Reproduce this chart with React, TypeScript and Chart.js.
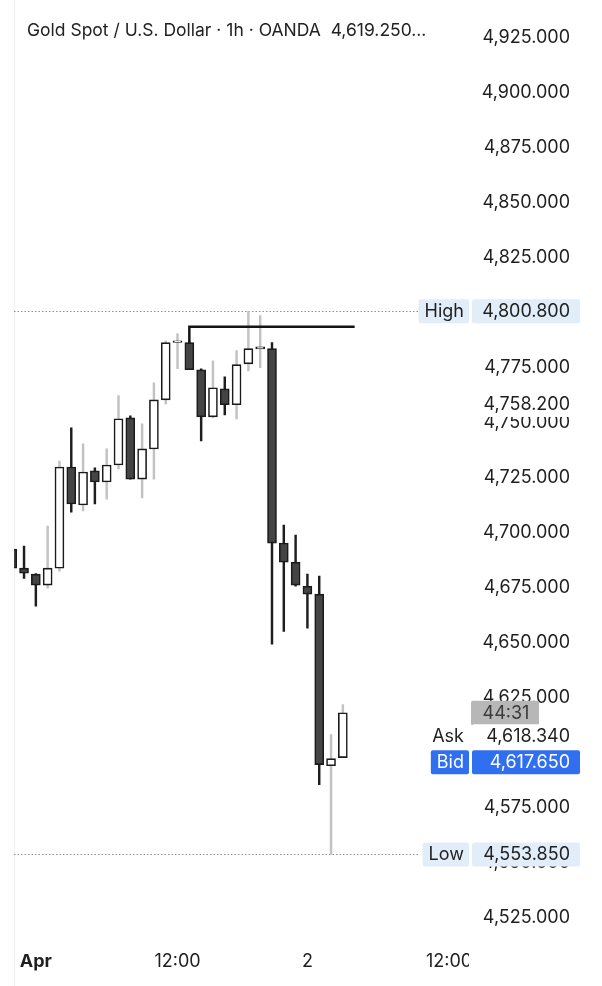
import React, { useEffect, useRef } from 'react';
import { Chart, registerables } from 'chart.js';

Chart.register(...registerables);

// ---- data (hourly candles, XAU/USD, OANDA) ----
const opens = [4692.7, 4684.0, 4681.3, 4676.3, 4684.0, 4730.0, 4712.7, 4728.2, 4723.2, 4730.9, 4752.3, 4724.5, 4738.2, 4760.5, 4786.6, 4786.5, 4774.2, 4752.8, 4765.5, 4758.3, 4776.9, 4783.7, 4783.8, 4695.4, 4686.7, 4675.8, 4672.2, 4594.2, 4597.9];
const highs = [4693.5, 4694.0, 4681.5, 4703.1, 4732.7, 4747.8, 4740.5, 4729.6, 4738.2, 4762.4, 4753.2, 4749.6, 4768.3, 4787.4, 4790.6, 4786.9, 4774.6, 4778.3, 4771.0, 4782.9, 4800.8, 4798.8, 4786.5, 4703.6, 4699.0, 4681.3, 4680.4, 4608.4, 4622.0];
const lows = [4684.0, 4679.4, 4666.7, 4674.9, 4682.6, 4709.5, 4710.0, 4713.2, 4715.4, 4729.1, 4724.5, 4715.9, 4724.5, 4758.7, 4774.7, 4774.2, 4741.9, 4752.3, 4753.7, 4751.9, 4773.7, 4775.1, 4649.4, 4655.3, 4675.8, 4656.7, 4585.6, 4553.85, 4597.9];
const closes = [4684.0, 4681.7, 4676.3, 4684.0, 4730.0, 4713.2, 4727.7, 4723.2, 4730.9, 4751.9, 4724.5, 4738.2, 4760.5, 4786.5, 4787.4, 4774.2, 4752.8, 4766.0, 4758.3, 4776.5, 4783.8, 4784.6, 4695.4, 4686.7, 4676.3, 4672.2, 4594.7, 4597.4, 4618.3];

// x-axis tick positions (candle index) and labels
const xTickPos = [2, 14, 25, 37];
const xTickLabels = ['Apr', '12:00', '2', '12:00'];

// drawn trend line (candle index, price)
const drawnLineX = [15, 15, 29];
const drawnLineY = [4786.5, 4793.8, 4793.8];

// price markers
const HIGH = 4800.8;
const LOW = 4553.85;
const ASK = 4618.34;
const BID = 4617.65;
const LAST_MARK = 4758.2;
const COUNTDOWN = '44:31';
const TITLE = 'Gold Spot / U.S. Dollar · 1h · OANDA  4,619.250...';

const FONT = 'Inter, "Noto Sans", sans-serif';
const TEXT = '#1f1f1f';

const fmt = (v: number) =>
  v.toLocaleString('en-US', { minimumFractionDigits: 3, maximumFractionDigits: 3 });

const isUp = (i: number) => closes[i] >= opens[i];

function roundRect(ctx: CanvasRenderingContext2D, x: number, y: number, w: number, h: number, r: number, fill: string) {
  ctx.beginPath();
  ctx.moveTo(x + r, y);
  ctx.lineTo(x + w - r, y);
  ctx.quadraticCurveTo(x + w, y, x + w, y + r);
  ctx.lineTo(x + w, y + h - r);
  ctx.quadraticCurveTo(x + w, y + h, x + w - r, y + h);
  ctx.lineTo(x + r, y + h);
  ctx.quadraticCurveTo(x, y + h, x, y + h - r);
  ctx.lineTo(x, y + r);
  ctx.quadraticCurveTo(x, y, x + r, y);
  ctx.closePath();
  ctx.fillStyle = fill;
  ctx.fill();
}

const overlayPlugin = {
  id: 'overlay',
  beforeDatasetsDraw(chart: any) {
    const { ctx, chartArea, scales } = chart;
    const y = scales.y;
    ctx.save();
    ctx.strokeStyle = '#f0f0f0';
    ctx.lineWidth = 1;
    ctx.beginPath();
    ctx.moveTo(chartArea.left + 0.5, 0);
    ctx.lineTo(chartArea.left + 0.5, chart.height);
    ctx.stroke();
    ctx.strokeStyle = '#8f8f8f';
    ctx.setLineDash([1.5, 2]);
    [HIGH, LOW].forEach((v) => {
      const py = Math.round(y.getPixelForValue(v)) + 0.5;
      ctx.beginPath();
      ctx.moveTo(chartArea.left, py);
      ctx.lineTo(419, py);
      ctx.stroke();
    });
    ctx.restore();
  },
  afterDraw(chart: any) {
    const { ctx, scales, chartArea } = chart;
    const y = scales.y;
    ctx.save();
    ctx.font = `18px ${FONT}`;
    ctx.textBaseline = 'middle';

    // hide the part of the time axis under the price scale
    ctx.fillStyle = '#fff';
    ctx.fillRect(chartArea.right + 1, chartArea.bottom + 2, chart.width - chartArea.right, chart.height - chartArea.bottom);

    const valRight = 570;
    const tagRight = 464;
    const tag = (label: string | null, value: string, yc: number, bg: string, fg: string) => {
      const h = 24;
      if (label) {
        const w = ctx.measureText(label).width;
        roundRect(ctx, tagRight - w - 6, yc - h / 2, w + 11, h, 2, bg);
      }
      roundRect(ctx, 472, yc - h / 2, 108, h, 2, bg);
      ctx.fillStyle = fg;
      ctx.textAlign = 'right';
      if (label) ctx.fillText(label, tagRight, yc);
      ctx.fillText(value, valRight, yc);
    };

    // last mark label
    const ym = y.getPixelForValue(LAST_MARK);
    ctx.fillStyle = '#fff';
    ctx.fillRect(472, ym - 12, 110, 24);
    ctx.fillStyle = TEXT;
    ctx.textAlign = 'right';
    ctx.fillText(fmt(LAST_MARK), valRight, ym);

    // high / low
    tag('High', fmt(HIGH), y.getPixelForValue(HIGH), '#e2edfa', TEXT);
    tag('Low', fmt(LOW), y.getPixelForValue(LOW), '#e2edfa', TEXT);

    // countdown
    const yb = y.getPixelForValue(BID);
    roundRect(ctx, 471, yb - 13.5, 68, 25, 2, '#b7b7b7');
    ctx.fillStyle = '#3a3a3a';
    ctx.textAlign = 'center';
    ctx.fillText(COUNTDOWN, 506, yb - 1);

    // ask (on a white plate that hides the tick label below it)
    const ya = yb + 22;
    const ybid = yb + 48;
    ctx.fillStyle = '#fff';
    ctx.fillRect(420, ya - 11, 162, ybid - ya);
    tag('Ask', fmt(ASK), ya, '#ffffff', TEXT);

    // bid
    tag('Bid', fmt(BID), ybid, '#2f6ff0', '#ffffff');

    // title
    ctx.font = `17.5px ${FONT}`;
    ctx.textAlign = 'left';
    ctx.fillStyle = '#222';
    ctx.fillText(TITLE, 27, 31);
    ctx.restore();
  },
};

export default function App() {
  const ref = useRef<HTMLCanvasElement>(null);

  useEffect(() => {
    const canvas = ref.current;
    if (!canvas) return;

    const idx = opens.map((_, i) => i);

    const chart = new Chart(canvas, {
      type: 'bar',
      data: {
        datasets: [
          {
            type: 'line',
            data: drawnLineX.map((x, i) => ({ x, y: drawnLineY[i] })),
            borderColor: '#141414',
            borderWidth: 2.5,
            pointRadius: 0,
            fill: false,
            tension: 0,
            order: 0,
          } as any,
          {
            type: 'bar',
            data: idx.map((i) => ({ x: i, y: [opens[i], closes[i]] })),
            backgroundColor: idx.map((i) => (isUp(i) ? '#ffffff' : '#444444')),
            borderColor: '#1a1a1a',
            borderWidth: 1.6,
            borderSkipped: false,
            barThickness: 9,
            grouped: false,
            order: 1,
          } as any,
          {
            type: 'bar',
            data: idx.map((i) => ({ x: i, y: [lows[i], highs[i]] })),
            backgroundColor: idx.map((i) => (isUp(i) ? '#c2c2c2' : '#1e1e1e')),
            borderWidth: 0,
            barThickness: 1.8,
            grouped: false,
            order: 2,
          } as any,
        ],
      },
      options: {
        responsive: false,
        animation: false,
        events: [],
        layout: { padding: { left: 14, right: 32, top: 38, bottom: 4 } },
        plugins: { legend: { display: false }, tooltip: { enabled: false } },
        scales: {
          x: {
            type: 'linear',
            min: 0.15,
            max: 38.6,
            offset: false,
            grid: { display: false, drawTicks: false },
            border: { display: false },
            afterBuildTicks: (scale: any) => {
              scale.ticks = xTickPos.map((v) => ({ value: v }));
            },
            ticks: {
              autoSkip: false,
              maxRotation: 0,
              padding: 10,
              color: TEXT,
              font: (c: any) => ({
                family: FONT,
                size: 18,
                weight: c.index === 0 ? 'bold' : 'normal',
              }),
              callback: (_v: any, i: number) => xTickLabels[i],
            },
          },
          y: {
            type: 'linear',
            position: 'right',
            min: 4514.8,
            max: 4925,
            grid: { display: false, drawTicks: false },
            border: { display: false },
            afterFit: (scale: any) => {
              scale.width = 102;
            },
            ticks: {
              stepSize: 25,
              includeBounds: false,
              crossAlign: 'far',
              padding: 0,
              color: TEXT,
              font: { family: FONT, size: 18 },
              callback: (v: any) => fmt(Number(v)),
            },
          },
        },
      } as any,
      plugins: [overlayPlugin],
    });
    return () => chart.destroy();
  }, []);

  return (
    <div style={{ position: 'fixed', left: 0, top: 0, width: 602, height: 986, background: '#fff' }}>
      <canvas ref={ref} width={602} height={986} style={{ display: 'block', width: 602, height: 986 }} />
    </div>
  );
}
